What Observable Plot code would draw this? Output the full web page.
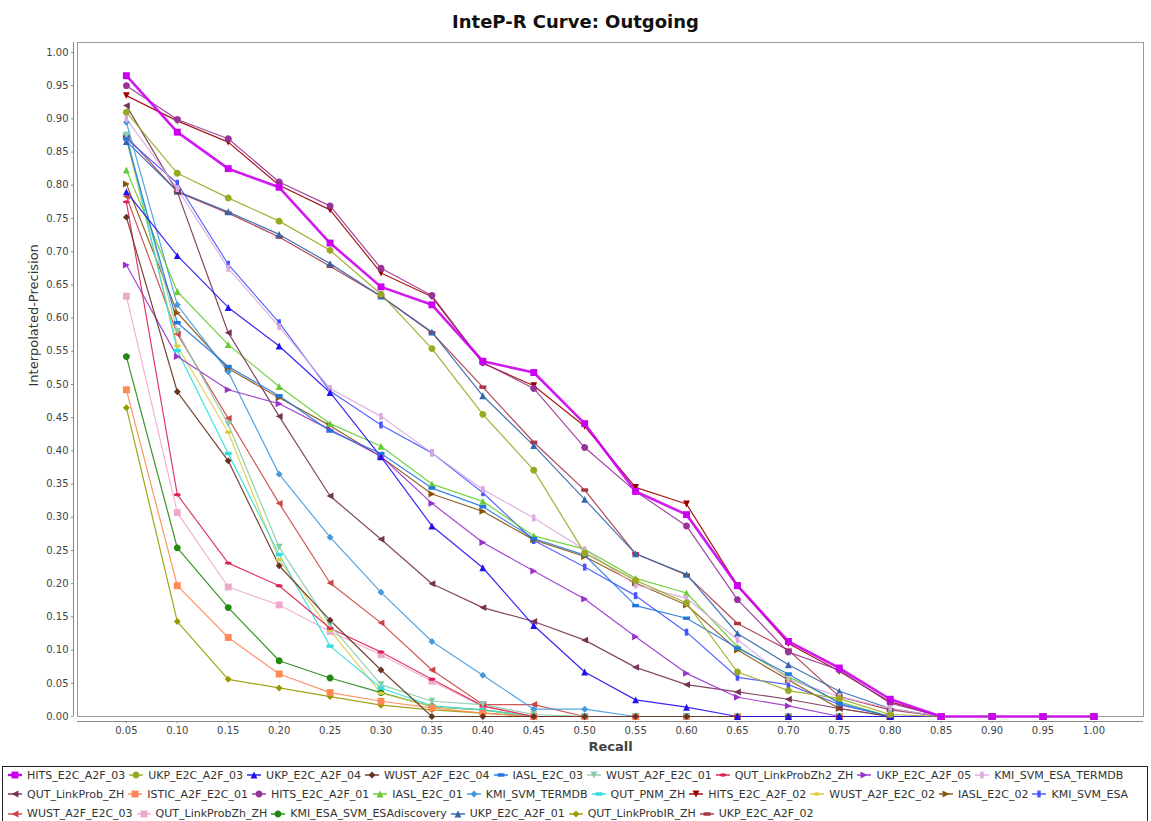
<!DOCTYPE html>
<html><head><meta charset="utf-8">
<script src="https://cdn.jsdelivr.net/npm/d3@7"></script>
<script src="https://cdn.jsdelivr.net/npm/@observablehq/plot@0.6"></script>
<style>
body{margin:0;background:#fff;font-family:"DejaVu Sans",sans-serif;}
#wrap{position:relative;width:1151px;height:821px;overflow:hidden;background:#fff;}
#title{position:absolute;top:10px;left:0;width:1151px;text-align:center;font:bold 18px "DejaVu Sans";line-height:24px;color:#111;}
#chart{position:absolute;top:34px;left:0;}
#legend{position:absolute;top:766px;left:2px;width:1146px;height:70px;border:1px solid #222;box-sizing:border-box;padding:0 0 0 5px;font:11px "DejaVu Sans";color:#333;}
.row{display:flex;height:19.3px;}
.row:first-child{margin-top:-1.5px;}
.item{display:flex;align-items:center;height:19.3px;margin-right:4px;white-space:nowrap;}
.item svg{margin-right:5px;display:block;}
</style></head>
<body>
<div id="wrap">
<div id="title">InteP-R Curve: Outgoing</div>
<div id="chart"></div>
<div id="legend"></div>
</div>
<script>
const recall = [0.05,0.10,0.15,0.20,0.25,0.30,0.35,0.40,0.45,0.50,0.55,0.60,0.65,0.70,0.75,0.80,0.85,0.90,0.95,1.00];
const yTicks = d3.range(0, 21).map(i => i * 0.05);

const HITS_E2C_A2F_03 = [0.965,0.880,0.825,0.797,0.713,0.647,0.620,0.535,0.518,0.441,0.339,0.304,0.197,0.113,0.073,0.026,0,0,0,0];
const UKP_E2C_A2F_03 = [0.910,0.818,0.781,0.746,0.702,0.636,0.554,0.455,0.371,0.246,0.205,0.171,0.067,0.039,0.027,0.003,0,0,0,0];
const UKP_E2C_A2F_04 = [0.790,0.694,0.616,0.558,0.488,0.391,0.287,0.224,0.137,0.067,0.025,0.014,0,0,0,0,0,0,0,0];
const WUST_A2F_E2C_04 = [0.752,0.489,0.385,0.227,0.145,0.070,0,0,0,0,0,0,0,0,0,0,0,0,0,0];
const IASL_E2C_03 = [0.870,0.593,0.527,0.483,0.430,0.396,0.344,0.316,0.268,0.243,0.167,0.148,0.103,0.064,0.020,0,0,0,0,0];
const WUST_A2F_E2C_01 = [0.875,0.580,0.440,0.255,0.138,0.048,0.023,0.018,0.003,0,0,0,0,0,0,0,0,0,0,0];
const QUT_LinkProbZh2_ZH = [0.775,0.334,0.231,0.197,0.133,0.097,0.056,0.016,0,0,0,0,0,0,0,0,0,0,0,0];
const UKP_E2C_A2F_05 = [0.680,0.542,0.492,0.471,0.432,0.392,0.321,0.262,0.219,0.177,0.120,0.065,0.029,0.016,0,0,0,0,0,0];
const KMI_SVM_ESA_TERMDB = [0.900,0.795,0.675,0.587,0.494,0.452,0.397,0.342,0.299,0.251,0.198,0.178,0.116,0.056,0.030,0.012,0,0,0,0];
const QUT_LinkProb_ZH = [0.920,0.790,0.578,0.452,0.332,0.267,0.200,0.164,0.143,0.115,0.074,0.048,0.037,0.026,0.012,0,0,0,0,0];
const ISTIC_A2F_E2C_01 = [0.492,0.197,0.119,0.064,0.036,0.023,0.013,0.005,0,0,0,0,0,0,0,0,0,0,0,0];
const HITS_E2C_A2F_01 = [0.950,0.899,0.870,0.805,0.769,0.675,0.634,0.533,0.494,0.405,0.339,0.287,0.176,0.097,0.070,0.020,0,0,0,0];
const IASL_E2C_01 = [0.823,0.640,0.560,0.497,0.441,0.407,0.350,0.324,0.272,0.252,0.208,0.186,0.105,0.060,0.022,0,0,0,0,0];
const KMI_SVM_TERMDB = [0.895,0.620,0.519,0.365,0.270,0.187,0.113,0.062,0.011,0.011,0,0,0,0,0,0,0,0,0,0];
const QUT_PNM_ZH = [0.878,0.551,0.396,0.244,0.106,0.043,0.016,0.010,0,0,0,0,0,0,0,0,0,0,0,0];
const HITS_E2C_A2F_02 = [0.935,0.897,0.865,0.800,0.763,0.668,0.632,0.532,0.498,0.437,0.345,0.320,0.197,0.110,0.068,0.022,0,0,0,0];
const WUST_A2F_E2C_02 = [0.870,0.558,0.428,0.236,0.130,0.035,0.015,0.010,0,0,0,0,0,0,0,0,0,0,0,0];
const IASL_E2C_02 = [0.802,0.608,0.524,0.480,0.438,0.391,0.335,0.309,0.266,0.241,0.201,0.168,0.100,0.055,0.012,0,0,0,0,0];
const KMI_SVM_ESA = [0.870,0.803,0.681,0.593,0.490,0.439,0.397,0.337,0.265,0.225,0.182,0.127,0.059,0.048,0.018,0,0,0,0,0];
const WUST_A2F_E2C_03 = [0.783,0.576,0.449,0.321,0.201,0.141,0.070,0.018,0.018,0,0,0,0,0,0,0,0,0,0,0];
const QUT_LinkProbZh_ZH = [0.633,0.307,0.195,0.168,0.128,0.093,0.053,0.015,0,0,0,0,0,0,0,0,0,0,0,0];
const KMI_ESA_SVM_ESAdiscovery = [0.542,0.254,0.164,0.084,0.058,0.036,0.015,0.010,0,0,0,0,0,0,0,0,0,0,0,0];
const UKP_E2C_A2F_01 = [0.866,0.791,0.760,0.726,0.682,0.633,0.579,0.483,0.408,0.327,0.245,0.214,0.125,0.078,0.038,0.012,0,0,0,0];
const QUT_LinkProbIR_ZH = [0.465,0.143,0.056,0.043,0.030,0.017,0.010,0.005,0,0,0,0,0,0,0,0,0,0,0,0];
const UKP_E2C_A2F_02 = [0.874,0.790,0.758,0.722,0.678,0.633,0.578,0.496,0.413,0.341,0.245,0.213,0.140,0.100,0.030,0.010,0,0,0,0];

const seriesNames = ["HITS_E2C_A2F_03","UKP_E2C_A2F_03","UKP_E2C_A2F_04","WUST_A2F_E2C_04","IASL_E2C_03","WUST_A2F_E2C_01","QUT_LinkProbZh2_ZH","UKP_E2C_A2F_05","KMI_SVM_ESA_TERMDB","QUT_LinkProb_ZH","ISTIC_A2F_E2C_01","HITS_E2C_A2F_01","IASL_E2C_01","KMI_SVM_TERMDB","QUT_PNM_ZH","HITS_E2C_A2F_02","WUST_A2F_E2C_02","IASL_E2C_02","KMI_SVM_ESA","WUST_A2F_E2C_03","QUT_LinkProbZh_ZH","KMI_ESA_SVM_ESAdiscovery","UKP_E2C_A2F_01","QUT_LinkProbIR_ZH","UKP_E2C_A2F_02"];
const seriesValues = [HITS_E2C_A2F_03,UKP_E2C_A2F_03,UKP_E2C_A2F_04,WUST_A2F_E2C_04,IASL_E2C_03,WUST_A2F_E2C_01,QUT_LinkProbZh2_ZH,UKP_E2C_A2F_05,KMI_SVM_ESA_TERMDB,QUT_LinkProb_ZH,ISTIC_A2F_E2C_01,HITS_E2C_A2F_01,IASL_E2C_01,KMI_SVM_TERMDB,QUT_PNM_ZH,HITS_E2C_A2F_02,WUST_A2F_E2C_02,IASL_E2C_02,KMI_SVM_ESA,WUST_A2F_E2C_03,QUT_LinkProbZh_ZH,KMI_ESA_SVM_ESAdiscovery,UKP_E2C_A2F_01,QUT_LinkProbIR_ZH,UKP_E2C_A2F_02];
const seriesColors = ["#cc00f0","#99aa22","#2211ee","#663322","#2277dd","#88ccaa","#dd2255","#9933cc","#ddaadd","#773355","#ff8855","#993399","#66cc33","#4499dd","#33dddd","#990000","#ddcc44","#885511","#4455ff","#cc4444","#eeaacc","#228811","#3366aa","#999900","#aa3344"];
const shapeCycle = ["square","circle","up","diamond","hrect","down","hellipse","right","vrect","left"];
const legendRows = [9, 10, 6]; // items per legend row

function shapeDraw(kind) {
  return {
    draw(ctx, size) {
      const s = Math.sqrt(size) / 2;
      const h = s / 2;
      const ellipse = (rx, ry) => {
        const k = 0.5523;
        ctx.moveTo(rx, 0);
        ctx.bezierCurveTo(rx, ry * k, rx * k, ry, 0, ry);
        ctx.bezierCurveTo(-rx * k, ry, -rx, ry * k, -rx, 0);
        ctx.bezierCurveTo(-rx, -ry * k, -rx * k, -ry, 0, -ry);
        ctx.bezierCurveTo(rx * k, -ry, rx, -ry * k, rx, 0);
        ctx.closePath();
      };
      const poly = pts => { ctx.moveTo(pts[0][0], pts[0][1]); for (let i = 1; i < pts.length; i++) ctx.lineTo(pts[i][0], pts[i][1]); ctx.closePath(); };
      switch (kind) {
        case "square": ctx.rect(-s, -s, 2 * s, 2 * s); break;
        case "circle": ellipse(s, s); break;
        case "up": poly([[0, -s], [s, s], [-s, s]]); break;
        case "diamond": poly([[0, -s], [s, 0], [0, s], [-s, 0]]); break;
        case "hrect": ctx.rect(-s, -h, 2 * s, 2 * h); break;
        case "down": poly([[-s, -s], [s, -s], [0, s]]); break;
        case "hellipse": ellipse(s, h); break;
        case "right": poly([[-s, -s], [s, 0], [-s, s]]); break;
        case "vrect": ctx.rect(-h, -s, 2 * h, 2 * s); break;
        case "left": poly([[-s, 0], [s, -s], [s, s]]); break;
      }
    }
  };
}
const seriesSymbols = seriesNames.map((_, i) => shapeDraw(shapeCycle[i % shapeCycle.length]));
const rows = seriesValues.map((vals, i) => recall.map((r, j) => ({recall: r, precision: vals[j], series: seriesNames[i]})));

const xDomain = [0.002, 1.0487];
const marks = [Plot.frame({stroke: "#9a9a9a"})];
for (let i = rows.length - 1; i >= 0; i--) {
  marks.push(Plot.line(rows[i], {x: "recall", y: "precision", stroke: seriesColors[i], strokeWidth: i === 0 ? 2.6 : 1.2, strokeOpacity: 0.9}));
}
for (let i = rows.length - 1; i >= 0; i--) {
  marks.push(Plot.dot(rows[i], {x: "recall", y: "precision", fill: seriesColors[i], stroke: "none", symbol: seriesSymbols[i], r: 3.9}));
}
marks.push(
  Plot.ruleX([xDomain[0]], {dx: -4, stroke: "#888"}),
  Plot.ruleY([0], {dy: 5, stroke: "#888"}),
  Plot.axisY({ticks: yTicks, tickFormat: d3.format(".2f"), tickSize: 2, tickPadding: 3, dx: -4, label: null, stroke: "#888", fill: "#444", fontSize: 10}),
  Plot.axisX({ticks: recall, tickFormat: d3.format(".2f"), tickSize: 2, tickPadding: 3, dy: 5, label: null, stroke: "#888", fill: "#444", fontSize: 10}),
  Plot.text(["Recall"], {text: d => d, frameAnchor: "bottom", dy: 34, fontWeight: "bold", fontSize: 13, fill: "#444"}),
  Plot.text(["Interpolated-Precision"], {text: d => d, frameAnchor: "left", dx: -44, dy: 7, rotate: -90, fontSize: 13, fill: "#333"})
);

const chart = Plot.plot({
  width: 1151,
  height: 728,
  marginTop: 8,
  marginBottom: 46,
  marginLeft: 77,
  marginRight: 8,
  x: {domain: xDomain},
  y: {domain: [0, 1.015]},
  style: {fontFamily: "DejaVu Sans", fontSize: "10px", background: "white", overflow: "visible"},
  marks
});
document.getElementById("chart").appendChild(chart);

// Legend (three rows, as in the reference)
const legend = d3.select("#legend");
let idx = 0;
legendRows.forEach(count => {
  const row = legend.append("div").attr("class", "row");
  for (let k = 0; k < count; k++, idx++) {
    const i = idx;
    const item = row.append("div").attr("class", "item");
    const svg = item.append("svg").attr("width", 14).attr("height", 10);
    svg.append("line").attr("x1", 0).attr("x2", 14).attr("y1", 5).attr("y2", 5).attr("stroke", seriesColors[i]).attr("stroke-width", i === 0 ? 2.4 : 1.4);
    const p = d3.path();
    seriesSymbols[i].draw(p, 3.9 * 3.9 * Math.PI);
    svg.append("path").attr("d", p.toString()).attr("transform", "translate(7,5)").attr("fill", seriesColors[i]);
    item.append("span").text(seriesNames[i]);
  }
});
</script>
</body></html>
